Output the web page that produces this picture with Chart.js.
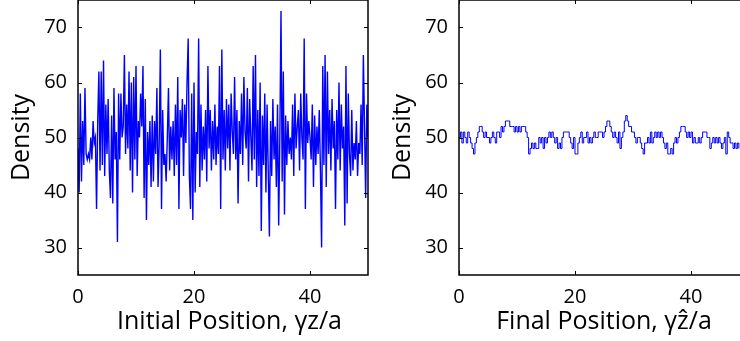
<!DOCTYPE html>
<html>
<head>
<meta charset="utf-8">
<script src="https://cdn.jsdelivr.net/npm/chart.js@4"></script>
<style>
  html, body { margin: 0; padding: 0; background: #fff; overflow: hidden; width: 740px; height: 341px; }
  .box { position: absolute; top: 0; width: 370px; height: 341px; }
  #leftBox { left: 0; }
  #rightBox { left: 381px; }
</style>
</head>
<body>
<div class="box" id="leftBox"><canvas id="initialChart" width="370" height="341"></canvas></div>
<div class="box" id="rightBox"><canvas id="finalChart" width="370" height="341"></canvas></div>
<script>
// initial density, one value every 0.2 in gamma z / a
const initialStep = 0.2;
const initialDensity = [
  48, 40, 58, 42, 53,  45, 59, 47, 46, 47,  46, 50, 46, 53, 49,  50, 37, 53, 62, 44,
  62, 45, 64, 43, 56,  47, 57, 44, 39, 54,  38, 59, 46, 51, 31,  58, 46, 58, 50, 52,
  65, 47, 56, 48, 62,  44, 60, 40, 61, 46,  63, 43, 53, 50, 58,  52, 63, 39, 57, 35,
  51, 45, 53, 41, 54,  42, 53, 47, 59, 41,  49, 66, 37, 55, 45,  47, 42, 50, 59, 44,
  52, 46, 53, 43, 56,  45, 61, 37, 55, 50,  57, 43, 56, 49, 60,  68, 43, 37, 58, 35,
  60, 40, 51, 47, 68,  41, 56, 44, 52, 46,  55, 42, 63, 48, 55,  44, 53, 46, 56, 45,
  52, 47, 63, 37, 66,  46, 55, 44, 57, 48,  56, 44, 58, 51, 47,  61, 46, 55, 38, 53,
  47, 58, 45, 61, 51,  48, 59, 42, 57, 50,  44, 63, 46, 65, 41,  55, 43, 60, 33, 54,
  45, 58, 40, 56, 44,  32, 53, 43, 57, 46,  52, 41, 56, 34, 50,  73, 42, 62, 36, 54,
  45, 53, 47, 50, 46,  56, 43, 58, 48, 52,  55, 44, 58, 50, 46,  68, 37, 58, 49, 53,
  50, 46, 56, 41, 54,  45, 52, 47, 55, 44,  30, 63, 45, 65, 41,  62, 47, 55, 44, 57,
  48, 53, 37, 55, 46,  60, 44, 56, 48, 52,  34, 63, 38, 58, 47,  43, 55, 44, 49, 46,
  53, 43, 49, 47, 56,  45, 65, 52, 39, 56,  50
];

// final density, one value every 0.25 in gamma z-hat / a
const finalStep = 0.25;
const finalDensity = [
  50, 51, 49, 51,  50, 49, 51, 50,  49, 48, 47, 49,  50, 51, 52, 52,  51, 50, 51, 50,
  50, 49, 50, 51,  50, 49, 51, 51,  50, 52, 51, 52,  53, 53, 53, 52,  52, 52, 51, 52,
  51, 52, 51, 52,  52, 52, 51, 50,  47, 48, 49, 48,  49, 48, 48, 50,  49, 50, 48, 50,
  49, 50, 51, 50,  51, 50, 49, 50,  48, 49, 48, 50,  51, 51, 51, 51,  50, 49, 48, 50,
  47, 47, 49, 50,  51, 49, 50, 50,  51, 49, 50, 49,  50, 51, 50, 50,  51, 51, 51, 50,
  51, 52, 53, 53,  52, 51, 50, 51,  50, 49, 51, 48,  50, 51, 53, 54,  53, 52, 52, 51,
  51, 50, 49, 50,  50, 49, 48, 47,  49, 49, 50, 49,  51, 49, 50, 51,  50, 51, 50, 51,
  50, 49, 48, 49,  47, 47, 48, 47,  49, 50, 49, 50,  51, 52, 52, 52,  51, 50, 51, 50,
  51, 49, 50, 49,  49, 50, 49, 50,  51, 51, 51, 50,  50, 48, 49, 50,  49, 50, 49, 50,
  49, 48, 49, 50,  47, 51, 50, 49,  49, 48, 49, 48,  49, 48
];

const xTicks = [0, 20, 40];
const yTicks = [30, 40, 50, 60, 70];

const textColor = "#000";
const fontFamily = "'Open Sans', 'DejaVu Sans', sans-serif";

function toPoints(values, step) {
  return values.map((v, i) => ({ x: i * step, y: v }));
}

// box round the plot with small inward ticks, like matlab
const framePlugin = {
  id: "frame",
  afterDatasetsDraw(chart) {
    const { ctx, chartArea: a, scales } = chart;
    ctx.save();
    ctx.strokeStyle = "#000";
    ctx.lineWidth = 1.5;
    ctx.strokeRect(a.left, a.top, a.right - a.left, a.bottom - a.top);
    ctx.lineWidth = 1;
    const len = 4;
    ctx.beginPath();
    yTicks.forEach(v => {
      const y = Math.round(scales.y.getPixelForValue(v)) + 0.5;
      ctx.moveTo(a.left, y); ctx.lineTo(a.left + len, y);
      ctx.moveTo(a.right, y); ctx.lineTo(a.right - len, y);
    });
    xTicks.forEach(v => {
      const x = Math.round(scales.x.getPixelForValue(v)) + 0.5;
      ctx.moveTo(x, a.bottom); ctx.lineTo(x, a.bottom - len);
      ctx.moveTo(x, a.top); ctx.lineTo(x, a.top + len);
    });
    ctx.stroke();
    ctx.restore();
  }
};

function makeOptions(xTitle) {
  return {
    responsive: false,
    animation: false,
    layout: { padding: { top: 0, right: 2, bottom: 0, left: 0 } },
    plugins: { legend: { display: false }, tooltip: { enabled: false } },
    elements: { point: { radius: 0 } },
    scales: {
      x: {
        type: "linear",
        min: 0,
        max: 50,
        afterBuildTicks: s => { s.ticks = xTicks.map(v => ({ value: v })); },
        afterFit: s => { s.height = 66; s.paddingLeft = 0; s.paddingRight = 0; },
        grid: { display: false, drawTicks: false },
        border: { display: false },
        ticks: { padding: 10, maxRotation: 0, color: textColor, font: { family: fontFamily, size: 20 } },
        title: { display: true, text: xTitle, color: textColor, font: { family: fontFamily, size: 25 }, padding: { top: 0, bottom: 4 } }
      },
      y: {
        min: 25,
        max: 75,
        afterBuildTicks: s => { s.ticks = yTicks.map(v => ({ value: v })); },
        afterFit: s => { s.width = 78; s.paddingTop = 0; s.paddingBottom = 0; },
        grid: { display: false, drawTicks: false },
        border: { display: false },
        ticks: { padding: 11, color: textColor, font: { family: fontFamily, size: 20 } },
        title: { display: true, text: "Density", color: textColor, font: { family: fontFamily, size: 25 }, padding: { top: 7, bottom: 0 } }
      }
    }
  };
}

new Chart(document.getElementById("initialChart"), {
  type: "line",
  data: {
    datasets: [{
      data: toPoints(initialDensity, initialStep),
      borderColor: "#0000ff",
      borderWidth: 1.4,
      tension: 0
    }]
  },
  options: makeOptions("  Initial Position, \u03b3z/a"),
  plugins: [framePlugin]
});

new Chart(document.getElementById("finalChart"), {
  type: "line",
  data: {
    datasets: [{
      data: toPoints(finalDensity, finalStep),
      borderColor: "#0000ff",
      borderWidth: 1,
      stepped: true
    }]
  },
  options: makeOptions("Final Position, \u03b3\u1e91/a"),
  plugins: [framePlugin]
});
</script>
</body>
</html>
